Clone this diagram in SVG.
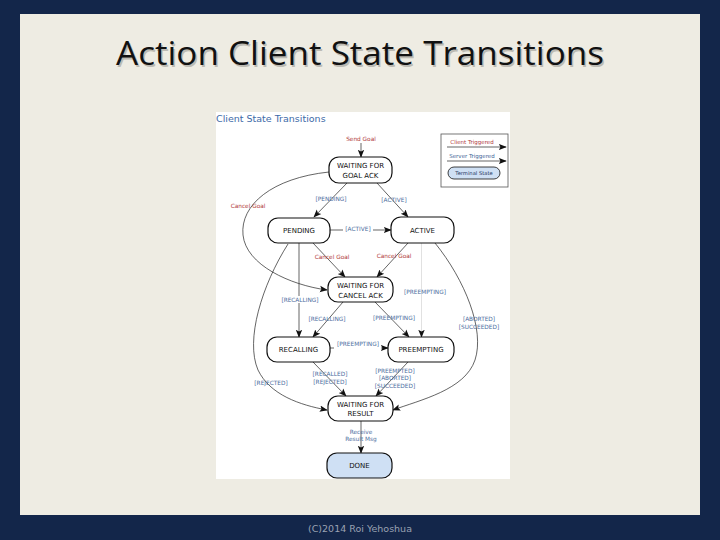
<svg xmlns="http://www.w3.org/2000/svg" width="720" height="540" viewBox="0 0 720 540">
<style>
.st{fill:#fff;stroke:#111;stroke-width:1.2}
.term{fill:#cfe0f4;stroke:#111;stroke-width:1.2}
.sl{font-family:"DejaVu Sans",sans-serif;font-size:7px;fill:#111;text-anchor:middle}
.bl{font-family:"DejaVu Sans",sans-serif;font-size:5.8px;fill:#4d6e9e;text-anchor:middle}
.rd{font-family:"DejaVu Sans",sans-serif;font-size:5.8px;fill:#b03a3a;text-anchor:middle}
.c{fill:none;stroke:#222;stroke-width:0.7;marker-end:url(#ah)}
</style>
<defs>
<marker id="ah" viewBox="0 0 10 10" refX="9" refY="5" markerWidth="8" markerHeight="8" markerUnits="userSpaceOnUse" orient="auto">
<path d="M0,1 L10,5 L0,9 L2,5 Z" fill="#111"/>
</marker>
</defs>
<rect width="720" height="540" fill="#13264a"/>
<rect x="20" y="14" width="680" height="501" fill="#eeece3"/>
<text x="361.5" y="66.5" font-family="'Open Sans',sans-serif" font-size="32" fill="#bdbbb3" text-anchor="middle" textLength="488" lengthAdjust="spacingAndGlyphs">Action Client State Transitions</text>
<text x="360" y="65" font-family="'Open Sans',sans-serif" font-size="32" fill="#111" text-anchor="middle" textLength="488" lengthAdjust="spacingAndGlyphs">Action Client State Transitions</text>
<text x="360" y="532" font-family="'DejaVu Sans',sans-serif" font-size="9.5" fill="#9aa2b2" text-anchor="middle">(C)2014 Roi Yehoshua</text>
<rect x="216" y="112" width="294" height="367" fill="#fff"/>
<text x="216" y="122" font-family="'DejaVu Sans',sans-serif" font-size="9.5" fill="#3d6aa8">Client State Transitions</text>

<g id="legend">
<rect x="441" y="134" width="67" height="53" fill="#fff" stroke="#555" stroke-width="0.8"/>
<text x="472" y="144" class="rd" style="font-size:5.5px">Client Triggered</text>
<line x1="447" y1="147" x2="506" y2="147" class="c"/>
<text x="472" y="158" class="bl" style="font-size:5.5px;fill:#3c5f96">Server Triggered</text>
<line x1="447" y1="161" x2="506" y2="161" class="c"/>
<rect x="448" y="167" width="52" height="12" rx="6" class="term" style="stroke-width:0.8"/>
<text x="474" y="175" class="sl" style="font-size:5.2px;fill:#1f3560">Terminal State</text>
</g>

<g id="connectors">
<line x1="361" y1="143" x2="361" y2="157" class="c"/>
<line x1="347" y1="183" x2="314" y2="217" class="c"/>
<line x1="377" y1="183" x2="408" y2="217" class="c"/>
<line x1="330" y1="230" x2="343" y2="230" stroke="#222" stroke-width="0.7"/>
<line x1="373" y1="230" x2="391" y2="230" class="c"/>
<path d="M329,172 C272,178 240,205 243,235 C246,265 290,285 327,290" class="c"/>
<path d="M288,244 C262,285 245,340 258,370 C270,395 300,405 327,410" class="c"/>
<path d="M435,243 C465,280 485,330 475,360 C465,390 420,400 393,410" class="c"/>
<line x1="299" y1="243" x2="299" y2="337" class="c"/>
<line x1="313" y1="243" x2="345" y2="277" class="c"/>
<line x1="408" y1="243" x2="377" y2="277" class="c"/>
<line x1="421.5" y1="243" x2="421.5" y2="337" class="c" style="stroke:#d4d4d4"/>
<line x1="343" y1="302" x2="313" y2="337" class="c"/>
<line x1="375" y1="302" x2="409" y2="337" class="c"/>
<line x1="330" y1="348" x2="334" y2="348" stroke="#222" stroke-width="0.7"/>
<line x1="381" y1="348" x2="388" y2="348" class="c"/>
<line x1="313" y1="362" x2="346" y2="396" class="c"/>
<line x1="408" y1="362" x2="376" y2="396" class="c"/>
<line x1="361" y1="421" x2="361" y2="453" class="c"/>
</g>

<g id="labels">
<text x="361" y="141" class="rd">Send Goal</text>
<text x="331" y="201" class="bl">[PENDING]</text>
<text x="394" y="202" class="bl">[ACTIVE]</text>
<text x="248" y="208" class="rd">Cancel Goal</text>
<text x="358" y="231" class="bl">[ACTIVE]</text>
<text x="332" y="259" class="rd">Cancel Goal</text>
<text x="394" y="258" class="rd">Cancel Goal</text>
<rect x="278" y="296" width="43" height="7" fill="#fff"/>
<text x="300" y="302" class="bl">[RECALLING]</text>
<text x="425" y="294" class="bl">[PREEMPTING]</text>
<text x="327" y="321" class="bl">[RECALLING]</text>
<text x="394" y="320" class="bl">[PREEMPTING]</text>
<text x="358" y="346" class="bl">[PREEMPTING]</text>
<text x="479" y="321" class="bl">[ABORTED]</text>
<text x="479" y="329" class="bl">[SUCCEEDED]</text>
<text x="330" y="376" class="bl">[RECALLED]</text>
<text x="330" y="384" class="bl">[REJECTED]</text>
<text x="395" y="373" class="bl">[PREEMPTED]</text>
<text x="395" y="380" class="bl">[ABORTED]</text>
<text x="395" y="388" class="bl">[SUCCEEDED]</text>
<text x="271" y="385" class="bl">[REJECTED]</text>
<text x="361" y="434" class="bl">Receive</text>
<text x="361" y="441" class="bl">Result Msg</text>
</g>

<g id="goal-ack"><rect x="329" y="157" width="63" height="26" rx="10" class="st"/><text x="360.5" y="168" class="sl">WAITING FOR</text><text x="360.5" y="178" class="sl">GOAL ACK</text></g>
<g id="pending"><rect x="268" y="218" width="62" height="25" rx="10" class="st"/><text x="299" y="233" class="sl">PENDING</text></g>
<g id="active"><rect x="391" y="217" width="63" height="26" rx="10" class="st"/><text x="422.5" y="233" class="sl">ACTIVE</text></g>
<g id="cancel-ack"><rect x="328" y="277" width="65" height="25" rx="10" class="st"/><text x="360.5" y="288" class="sl">WAITING FOR</text><text x="360.5" y="297.5" class="sl">CANCEL ACK</text></g>
<g id="recalling"><rect x="267" y="337" width="63" height="25" rx="10" class="st"/><text x="298.5" y="352" class="sl">RECALLING</text></g>
<g id="preempting"><rect x="388" y="337" width="66" height="25" rx="10" class="st"/><text x="421" y="352" class="sl">PREEMPTING</text></g>
<g id="result"><rect x="328" y="396" width="65" height="25" rx="10" class="st"/><text x="360.5" y="406.5" class="sl">WAITING FOR</text><text x="360.5" y="416" class="sl">RESULT</text></g>
<g id="done"><rect x="327" y="453" width="65" height="25" rx="10" class="term"/><text x="359.5" y="468" class="sl">DONE</text></g>
</svg>
